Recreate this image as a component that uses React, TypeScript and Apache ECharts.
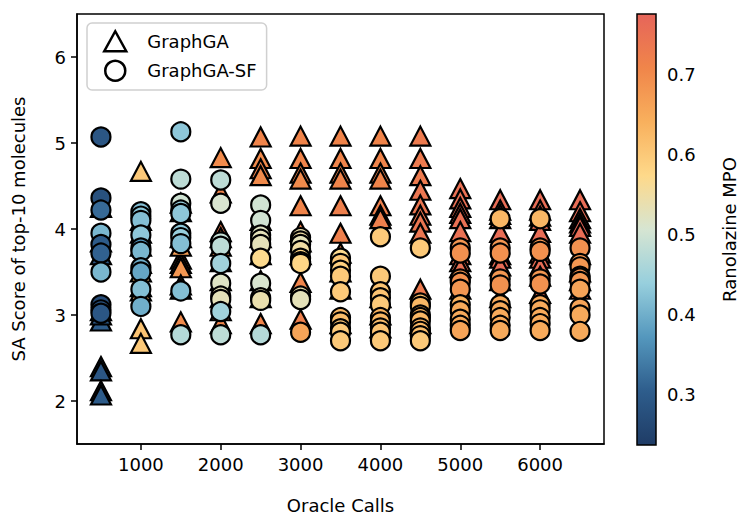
import React, { useEffect, useRef } from "react";
import * as echarts from "echarts";

const oracleCalls = [500, 1000, 1500, 2000, 2500, 3000, 3500, 4000, 4500, 5000, 5500, 6000, 6500];

// GraphGA (triangles): SA score and Ranolazine MPO, 10 molecules per checkpoint
const graphGA_SA = [
  [2.40, 2.35, 2.12, 2.07, 2.93, 3.00, 3.05, 3.70, 3.85, 4.25],
  [4.67, 3.33, 3.28, 2.84, 2.67, 3.60, 3.80, 3.95, 4.10, 3.50],
  [3.65, 3.60, 3.55, 3.35, 2.92, 3.80, 3.90, 4.20, 4.30, 3.30],
  [4.83, 4.42, 3.97, 3.90, 3.62, 3.40, 3.20, 2.90, 3.05, 3.80],
  [5.07, 4.82, 4.70, 4.62, 2.90, 3.90, 3.70, 3.40, 3.20, 4.10],
  [5.08, 4.82, 4.65, 4.58, 4.27, 3.97, 3.38, 2.95, 3.70, 3.85],
  [5.08, 4.82, 4.65, 4.58, 4.27, 3.95, 3.72, 3.50, 3.30, 2.90],
  [5.08, 4.82, 4.65, 4.58, 4.27, 4.16, 4.12, 3.20, 3.00, 2.85],
  [5.08, 4.82, 4.62, 4.45, 4.28, 4.16, 4.08, 3.95, 3.30, 2.90],
  [4.47, 4.35, 4.25, 4.18, 4.12, 3.97, 3.70, 3.62, 3.55, 3.30],
  [4.34, 4.22, 4.17, 4.12, 3.96, 3.70, 3.66, 3.57, 3.40, 3.20],
  [4.34, 4.22, 4.15, 4.10, 3.96, 3.72, 3.66, 3.57, 3.45, 3.25],
  [4.34, 4.20, 4.12, 4.07, 4.03, 3.95, 3.70, 3.50, 3.40, 3.30],
];
const graphGA_MPO = [
  [0.28, 0.29, 0.31, 0.30, 0.30, 0.29, 0.30, 0.29, 0.28, 0.29],
  [0.60, 0.62, 0.63, 0.61, 0.60, 0.62, 0.63, 0.62, 0.62, 0.63],
  [0.68, 0.67, 0.68, 0.66, 0.70, 0.67, 0.68, 0.67, 0.66, 0.68],
  [0.70, 0.71, 0.73, 0.70, 0.70, 0.71, 0.70, 0.71, 0.70, 0.70],
  [0.71, 0.70, 0.71, 0.70, 0.71, 0.70, 0.71, 0.70, 0.71, 0.70],
  [0.71, 0.71, 0.71, 0.70, 0.71, 0.72, 0.71, 0.72, 0.71, 0.71],
  [0.71, 0.71, 0.71, 0.71, 0.72, 0.72, 0.71, 0.71, 0.72, 0.72],
  [0.71, 0.71, 0.71, 0.71, 0.72, 0.72, 0.72, 0.71, 0.71, 0.72],
  [0.73, 0.73, 0.73, 0.74, 0.74, 0.74, 0.74, 0.74, 0.73, 0.73],
  [0.75, 0.75, 0.75, 0.75, 0.75, 0.75, 0.75, 0.75, 0.75, 0.75],
  [0.76, 0.76, 0.76, 0.76, 0.76, 0.76, 0.76, 0.76, 0.76, 0.76],
  [0.76, 0.76, 0.76, 0.76, 0.76, 0.76, 0.76, 0.76, 0.76, 0.76],
  [0.76, 0.76, 0.76, 0.76, 0.77, 0.76, 0.76, 0.76, 0.76, 0.76],
];

// GraphGA-SF (circles)
const graphGASF_SA = [
  [5.07, 4.36, 4.22, 3.95, 3.82, 3.72, 3.50, 3.12, 3.06, 3.02],
  [4.20, 4.15, 4.10, 3.93, 3.78, 3.74, 3.55, 3.50, 3.30, 3.10],
  [5.13, 4.58, 4.30, 4.22, 4.18, 3.95, 3.90, 3.83, 3.28, 2.77],
  [4.57, 4.30, 3.85, 3.80, 3.60, 3.37, 3.22, 3.18, 3.04, 2.77],
  [4.28, 4.10, 3.93, 3.88, 3.82, 3.66, 3.37, 3.20, 3.17, 2.77],
  [3.90, 3.86, 3.82, 3.75, 3.66, 3.62, 3.60, 3.22, 3.18, 2.80],
  [3.66, 3.60, 3.52, 3.45, 3.27, 2.97, 2.92, 2.84, 2.80, 2.70],
  [3.91, 3.45, 3.27, 3.20, 3.12, 2.97, 2.92, 2.85, 2.80, 2.70],
  [3.78, 3.14, 3.10, 3.00, 2.97, 2.93, 2.85, 2.81, 2.76, 2.70],
  [3.78, 3.72, 3.42, 3.38, 3.30, 3.12, 3.05, 2.95, 2.88, 2.82],
  [4.12, 3.78, 3.72, 3.42, 3.35, 3.12, 3.05, 2.97, 2.88, 2.82],
  [4.12, 3.78, 3.74, 3.42, 3.36, 3.12, 3.06, 2.97, 2.90, 2.82],
  [3.78, 3.60, 3.56, 3.45, 3.43, 3.39, 3.30, 3.08, 3.00, 2.81],
];
const graphGASF_MPO = [
  [0.29, 0.28, 0.32, 0.41, 0.30, 0.31, 0.41, 0.27, 0.28, 0.29],
  [0.42, 0.43, 0.42, 0.43, 0.37, 0.41, 0.40, 0.39, 0.42, 0.40],
  [0.43, 0.48, 0.50, 0.44, 0.43, 0.43, 0.44, 0.42, 0.42, 0.47],
  [0.48, 0.51, 0.49, 0.48, 0.45, 0.52, 0.53, 0.53, 0.45, 0.48],
  [0.50, 0.50, 0.52, 0.53, 0.53, 0.57, 0.51, 0.53, 0.54, 0.47],
  [0.54, 0.55, 0.53, 0.55, 0.58, 0.57, 0.58, 0.54, 0.53, 0.66],
  [0.57, 0.60, 0.59, 0.60, 0.60, 0.63, 0.62, 0.61, 0.60, 0.60],
  [0.60, 0.60, 0.61, 0.61, 0.60, 0.64, 0.63, 0.62, 0.61, 0.60],
  [0.60, 0.62, 0.63, 0.64, 0.64, 0.63, 0.64, 0.63, 0.62, 0.60],
  [0.68, 0.69, 0.68, 0.69, 0.68, 0.64, 0.65, 0.65, 0.65, 0.66],
  [0.63, 0.68, 0.69, 0.68, 0.69, 0.65, 0.65, 0.65, 0.65, 0.65],
  [0.63, 0.68, 0.69, 0.68, 0.69, 0.65, 0.65, 0.65, 0.65, 0.65],
  [0.69, 0.68, 0.68, 0.67, 0.69, 0.68, 0.66, 0.66, 0.65, 0.65],
];

const xTicks = [1000, 2000, 3000, 4000, 5000, 6000];
const yTicks = [2, 3, 4, 5, 6];
const cbarTicks = [0.3, 0.4, 0.5, 0.6, 0.7];
const mpoMin = 0.2375;
const mpoMax = 0.776;
const cmapColors = [
  "#1f3c66",
  "#2e5d8c",
  "#5497bd",
  "#97cfdd",
  "#d6e5d2",
  "#fed98a",
  "#f8b05d",
  "#f0854a",
  "#e6655a",
];

const FONT = "DejaVu Sans";

function buildPoints(sa: number[][], mpo: number[][]) {
  const out: number[][] = [];
  oracleCalls.forEach((x, i) => {
    sa[i].forEach((y, j) => out.push([x, y, mpo[i][j]]));
  });
  return out;
}

export default function App() {
  const ref = useRef<HTMLDivElement>(null);
  useEffect(() => {
    if (!ref.current) return;
    const chart = echarts.init(ref.current, undefined, { renderer: "svg" });
    const cbX = 637, cbY = 14, cbW = 19, cbH = 431;
    const option: any = {
      animation: false,
      backgroundColor: "#ffffff",
      textStyle: { fontFamily: FONT },
      grid: [
        { left: 77, right: 139, top: 14, bottom: 74, show: true, borderColor: "#000", borderWidth: 1.5, backgroundColor: "transparent" },
        { left: cbX, top: cbY, width: cbW, height: cbH, show: false },
      ],
      xAxis: [
        {
          type: "value", gridIndex: 0, min: 200, max: 6800,
          axisLine: { show: true, lineStyle: { color: "#000", width: 1.5 } },
          axisTick: { show: true, customValues: xTicks, length: 6, lineStyle: { color: "#000", width: 1.5 } },
          axisLabel: {
            customValues: xTicks, fontSize: 18, color: "#000", margin: 11, fontFamily: FONT,
            formatter: (v: number) => String(v),
          },
          splitLine: { show: false },
          name: "Oracle Calls", nameLocation: "middle", nameGap: 52,
          nameTextStyle: { fontSize: 18, color: "#000", fontFamily: FONT },
        },
        { type: "value", gridIndex: 1, min: 0, max: 1, show: false },
      ],
      yAxis: [
        {
          type: "value", gridIndex: 0, min: 1.5, max: 6.5,
          axisLine: { show: true, lineStyle: { color: "#000", width: 1.5 } },
          axisTick: { show: true, customValues: yTicks, length: 6, lineStyle: { color: "#000", width: 1.5 } },
          axisLabel: { customValues: yTicks, fontSize: 18, color: "#000", margin: 11, fontFamily: FONT },
          splitLine: { show: false },
          name: "SA Score of top-10 molecules", nameLocation: "middle", nameGap: 50, nameRotate: 90,
          nameTextStyle: { fontSize: 18, color: "#000", fontFamily: FONT },
        },
        {
          type: "value", gridIndex: 1, position: "right", min: mpoMin, max: mpoMax,
          axisLine: { show: false },
          axisTick: { show: true, customValues: cbarTicks, length: 6, lineStyle: { color: "#000", width: 1.5 } },
          axisLabel: {
            customValues: cbarTicks, fontSize: 18, color: "#000", margin: 11, fontFamily: FONT,
            formatter: (v: number) => v.toFixed(1),
          },
          splitLine: { show: false },
          name: "Ranolazine MPO", nameLocation: "middle", nameGap: 64, nameRotate: 90,
          nameTextStyle: { fontSize: 18, color: "#000", fontFamily: FONT },
        },
      ],
      visualMap: {
        type: "continuous", show: false, dimension: 2, min: mpoMin, max: mpoMax,
        seriesIndex: [0, 1], inRange: { color: cmapColors },
      },
      legend: {
        left: 87, top: 23, orient: "vertical", selectedMode: false,
        itemWidth: 22, itemHeight: 20, itemGap: 7,
        padding: [7, 10, 8, 16],
        backgroundColor: "#fff", borderColor: "#d0d0d0", borderWidth: 1.5, borderRadius: 5,
        textStyle: { fontSize: 18, color: "#000", fontFamily: FONT, padding: [0, 0, 0, 16] },
        data: [
          { name: "GraphGA", icon: "triangle", itemStyle: { color: "#fff", borderColor: "#000", borderWidth: 2.5 } },
          { name: "GraphGA-SF", icon: "circle", itemStyle: { color: "#fff", borderColor: "#000", borderWidth: 2.5 } },
        ],
      },
      series: [
        {
          name: "GraphGA", type: "scatter", xAxisIndex: 0, yAxisIndex: 0,
          symbol: "triangle", symbolSize: [20, 19],
          itemStyle: { borderColor: "#000", borderWidth: 2.2, opacity: 1 },
          emphasis: { disabled: true },
          data: buildPoints(graphGA_SA, graphGA_MPO),
        },
        {
          name: "GraphGA-SF", type: "scatter", xAxisIndex: 0, yAxisIndex: 0,
          symbol: "circle", symbolSize: 19,
          itemStyle: { borderColor: "#000", borderWidth: 2.2, opacity: 1 },
          emphasis: { disabled: true },
          data: buildPoints(graphGASF_SA, graphGASF_MPO),
        },
      ],
      graphic: [
        {
          type: "rect", z: 10,
          shape: { x: cbX, y: cbY, width: cbW, height: cbH },
          style: {
            fill: {
              type: "linear", x: 0, y: 1, x2: 0, y2: 0,
              colorStops: cmapColors.map((c, i) => ({ offset: i / (cmapColors.length - 1), color: c })),
            },
            stroke: "#000", lineWidth: 1.5,
          },
        },
      ],
    };
    chart.setOption(option);
    return () => chart.dispose();
  }, []);
  return <div ref={ref} style={{ position: "fixed", left: 0, top: 0, width: 743, height: 519 }} />;
}
